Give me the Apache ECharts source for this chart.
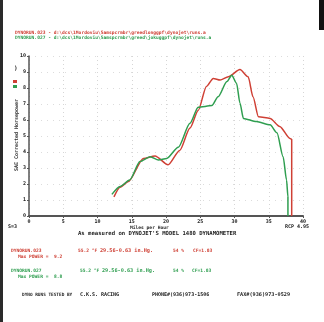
<!DOCTYPE html>
<html><head><meta charset="utf-8">
<script src="https://cdn.jsdelivr.net/npm/echarts@6/dist/echarts.min.js"></script>
<style>html,body{margin:0;padding:0;background:#fff}#c{width:324px;height:322px}</style>
</head><body><div id="c"></div>
<script>
// ---- data ----
const xTicks = [0,5,10,15,20,25,30,35,40];
const yTicks = [0,1,2,3,4,5,6,7,8,9,10];
const run023Mph = [12.4,13.3,14.5,16.7,18.4,20.3,22.0,23.5,24.7,25.9,26.9,27.9,29.1,30.8,32.0,32.7,33.5,35.2,36.6,38.1,38.35,38.35];
const run023Hp  = [1.2,1.8,2.15,3.6,3.75,3.2,4.1,5.5,6.6,8.1,8.6,8.5,8.7,9.15,8.7,7.45,6.2,6.1,5.6,4.85,4.8,0];
const run027Mph = [12.1,13.3,14.7,16.2,17.7,18.9,20.1,21.8,23.5,24.7,26.7,27.6,28.9,29.6,30.3,30.8,31.3,33.2,35.2,36.2,37.1,37.6,37.8,37.8];
const run027Hp  = [1.35,1.85,2.25,3.4,3.7,3.5,3.6,4.3,5.8,6.8,6.9,7.45,8.4,8.8,8.3,7.05,6.1,5.9,5.7,5.2,3.7,2.25,1.2,0];
const RED = '#cf4035', GREEN = '#2f9e50';
const MONO = '"DejaVu Sans Mono", monospace';

const pairs = (xs, ys) => xs.map((x,i)=>[x, ys[i]]);
const chart = echarts.init(document.getElementById('c'), null, {renderer:'canvas'});
function txt(t, x, y, color, size, extra) {
  return Object.assign({type:'text', silent:true, style:{text:t, x:x, y:y, fill:color,
    font:'bold '+size+'px '+MONO, verticalAlign:'middle', align:'left'}}, extra||{});
}
const g = [
  {type:'rect', shape:{x:0,y:0,width:3,height:322}, style:{fill:'#2a2a2a'}},
  {type:'rect', shape:{x:319,y:0,width:5,height:30}, style:{fill:'#111'}},
  txt('DYNORUN.023 - d:\\dcs\\1Mordoviu\\Samspcrmbr\\greedlonggpf\\dynojet\\runs.a', 15, 33, RED, 4.6),
  txt('DYNORUN.027 - d:\\dcs\\1Mordoviu\\Samspcrmbr\\greed\\jokuggpf\\dynojet\\runs.a', 15, 38, GREEN, 4.6),
  txt(')', 14, 68, '#222', 6),
  {type:'rect', shape:{x:13,y:80,width:4,height:3}, style:{fill:RED}},
  {type:'rect', shape:{x:13,y:85,width:4,height:3}, style:{fill:GREEN}},
  {type:'text', silent:true, x:17, y:135, rotation:Math.PI/2,
    style:{text:'SAE Corrected Horsepower', x:0, y:0, fill:'#333', font:'bold 5px '+MONO,
      align:'center', verticalAlign:'middle'}},
  txt('S=3', 8, 227, '#222', 5),
  txt('RCP 4.95', 285, 227, '#222', 5),
  txt('Miles per Hour', 130, 228, '#222', 4.6),
  txt("As measured on DYNOJET'S MODEL 1480 DYNAMOMETER", 78, 234, '#222', 5.6),
  txt('DYNORUN.023', 11, 251, RED, 4.6),
  txt('55.2 °F', 78, 251, RED, 4.6),
  txt('29.56-0.63 in.Hg.', 100, 251, RED, 5.2),
  txt('54 %', 173, 251, RED, 4.6),
  txt('CF=1.03', 193, 251, RED, 4.6),
  txt('Max POWER =  9.2', 18, 257, RED, 4.6),
  txt('DYNORUN.027', 11, 271, GREEN, 4.6),
  txt('55.2 °F', 80, 271, GREEN, 4.6),
  txt('29.56-0.63 in.Hg.', 102, 271, GREEN, 5.2),
  txt('54 %', 173, 271, GREEN, 4.6),
  txt('CF=1.03', 192, 271, GREEN, 4.6),
  txt('Max POWER =  8.8', 18, 277, GREEN, 4.6),
  txt('DYNO RUNS TESTED BY', 22, 295, '#222', 4.4),
  txt('C.K.S. RACING', 80, 295, '#222', 5),
  txt('PHONE#(936)973-1506', 152, 295, '#222', 5),
  txt('FAX#(936)973-0529', 237, 295, '#222', 5.2)
];
chart.setOption({
  animation:false,
  backgroundColor:'#fff',
  grid:{left:29, right:21, top:56, bottom:106},
  xAxis:{type:'value', min:0, max:40, interval:5,
    axisLine:{lineStyle:{color:'#555', width:2}},
    axisTick:{show:true, length:2, lineStyle:{color:'#555'}},
    axisLabel:{fontSize:5, fontWeight:'bold', color:'#222', margin:3, fontFamily:MONO,
      formatter:v=>xTicks.includes(v)?String(v):''},
    splitLine:{show:true, lineStyle:{color:'#d6d6d6', type:[1,3], width:1}}},
  yAxis:{type:'value', min:0, max:10, interval:1,
    axisLine:{show:true, lineStyle:{color:'#555', width:1.5}},
    axisTick:{show:true, length:2, lineStyle:{color:'#555'}},
    axisLabel:{fontSize:5, fontWeight:'bold', color:'#222', margin:3, fontFamily:MONO,
      formatter:v=>yTicks.includes(v)?String(v):''},
    splitLine:{show:true, lineStyle:{color:'#dcdcdc', type:[1,5], width:1}}},
  series:[
    {type:'line', data:pairs(run023Mph, run023Hp), showSymbol:false, smooth:0.25, smoothMonotone:'x',
      lineStyle:{color:RED, width:1.5}, itemStyle:{color:RED}},
    {type:'line', data:pairs(run027Mph, run027Hp), showSymbol:false, smooth:0.25, smoothMonotone:'x',
      lineStyle:{color:GREEN, width:1.5}, itemStyle:{color:GREEN}}
  ],
  graphic:g
});
</script></body></html>
